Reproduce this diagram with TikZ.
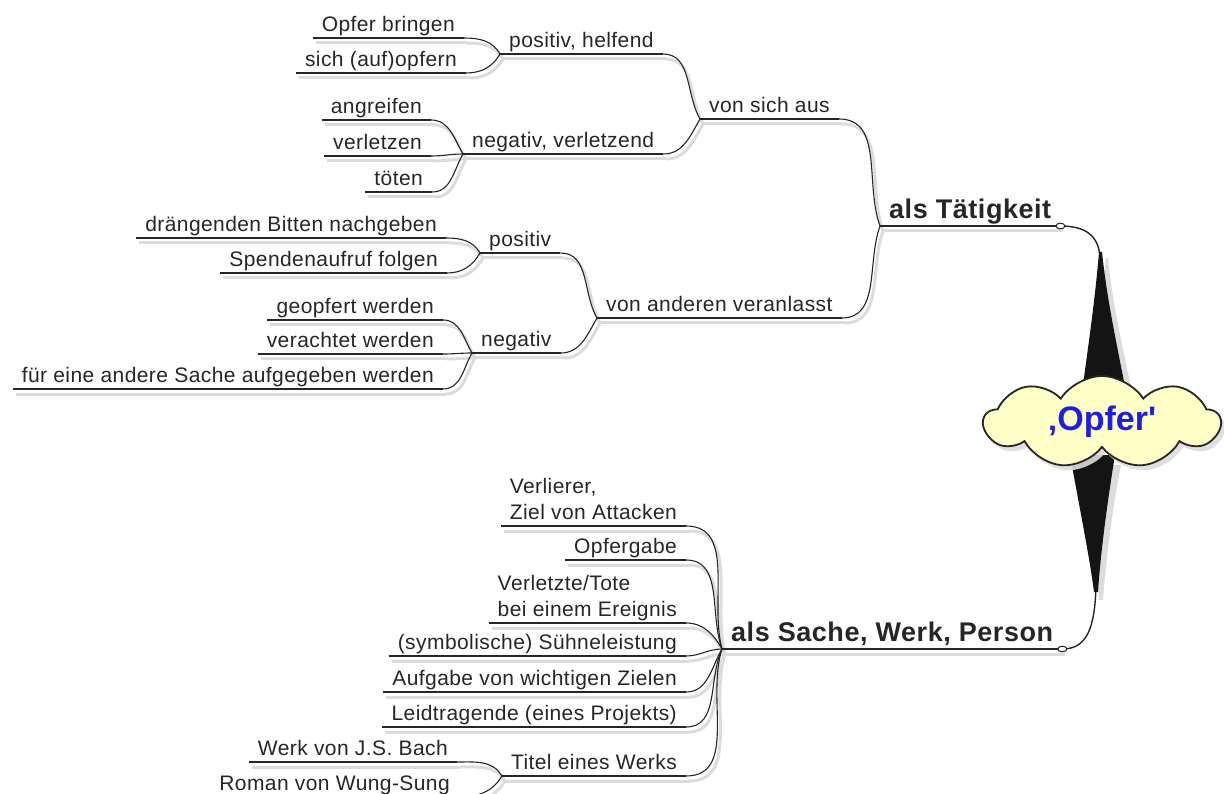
\documentclass[tikz,border=0pt]{standalone}
\usepackage{fontspec}
\setmainfont{Liberation Sans}[LetterSpace=2]
\newfontfamily\cloudfont{Liberation Sans}[Ligatures=TeXOff]
\usetikzlibrary{shapes.symbols,shadows,backgrounds}
\definecolor{mmblack}{HTML}{262626}
\definecolor{mmshade}{HTML}{DCDCDC}
\definecolor{mmyellow}{HTML}{FFFFC8}
\definecolor{mmblue}{HTML}{1E1EE8}

\begin{document}
\begin{tikzpicture}[x=1pt, y=1pt,
	leaf/.style={inner xsep=9pt, inner ysep=6pt, text depth=0pt, align=left, text=mmblack, font=\fontsize{21}{26}\selectfont},
	mainleaf/.style={leaf, inner ysep=7pt, font=\fontsize{27}{32}\selectfont\bfseries},
	uline/.style={draw=mmblack, line width=1.1pt},
	lshade/.style={draw=mmshade, line width=3pt},
	spike/.style={fill=black!92},
]
	\useasboundingbox (0,0) rectangle (1224,-794);

	% als Taetigkeit
	\node[mainleaf, anchor=south west] (tat) at (880,-226) {als Tätigkeit};
	\node[leaf, anchor=south west] (vsa) at (700,-119) {von sich aus};
	\node[leaf, anchor=south west] (vav) at (597,-318) {von anderen veranlasst};
	\node[leaf, anchor=south west] (ph) at (500,-54) {positiv, helfend};
	\node[leaf, anchor=south west] (nv) at (463,-154) {negativ, verletzend};
	\node[leaf, anchor=south west] (pos) at (480,-253) {positiv};
	\node[leaf, anchor=south west] (neg) at (472,-353) {negativ};
	\node[leaf, anchor=south east] (ob) at (464,-38) {Opfer bringen};
	\node[leaf, anchor=south east] (sao) at (466,-73) {sich (auf)opfern};
	\node[leaf, anchor=south east] (ang) at (431,-120) {angreifen};
	\node[leaf, anchor=south east] (vl) at (431,-156) {verletzen};
	\node[leaf, anchor=south east] (tot) at (432,-192) {töten};
	\node[leaf, anchor=south east] (dbn) at (446,-238) {drängenden Bitten nachgeben};
	\node[leaf, anchor=south east] (saf) at (447,-273) {Spendenaufruf folgen};
	\node[leaf, anchor=south east] (gw) at (443,-320) {geopfert werden};
	\node[leaf, anchor=south east] (vw) at (443,-354) {verachtet werden};
	\node[leaf, anchor=south east] (fes) at (443,-389) {für eine andere Sache aufgegeben werden};

	% als Sache, Werk, Person
	\node[mainleaf, anchor=south west] (swp) at (722,-649) {als Sache, Werk, Person};
	\node[leaf, anchor=south east] (vz) at (686,-526) {Verlierer,\\Ziel von Attacken};
	\node[leaf, anchor=south east] (og) at (686,-560) {Opfergabe};
	\node[leaf, anchor=south east] (ve) at (686,-623) {Verletzte/Tote\\bei einem Ereignis};
	\node[leaf, anchor=south east] (sl) at (686,-656) {(symbolische) Sühneleistung};
	\node[leaf, anchor=south east] (av) at (686,-692) {Aufgabe von wichtigen Zielen};
	\node[leaf, anchor=south east] (lt) at (686,-727) {Leidtragende (eines Projekts)};
	\node[leaf, anchor=south east] (tw) at (686,-776) {Titel eines Werks};
	\node[leaf, anchor=south east] (bach) at (457,-762) {Werk von J.S. Bach};
	\node[leaf, anchor=south east] (wung) at (459,-797) {Roman von Wung-Sung};

	% underlines
	\foreach \n in {tat,vsa,vav,ph,nv,pos,neg,ob,sao,ang,vl,tot,dbn,saf,gw,vw,fes,swp,vz,og,ve,sl,av,lt,tw,bach,wung}{
		\draw[uline] (\n.south west) -- (\n.south east);
		\begin{pgfonlayer}{background}
			\draw[lshade] ([shift={(3,-5)}]\n.south west) -- ([shift={(3,-5)}]\n.south east);
		\end{pgfonlayer}
	}

	% connectors
	\foreach \a/\b/\i in {ob/ph/120, sao/ph/240, ang/nv/120, vl/nv/180, tot/nv/240, ph/vsa/120, nv/vsa/240,
		dbn/pos/120, saf/pos/240, gw/neg/120, vw/neg/180, fes/neg/240, pos/vav/120, neg/vav/240,
		vsa/tat/110, vav/tat/250, vz/swp/105, og/swp/110, ve/swp/120, sl/swp/180, av/swp/240, lt/swp/245,
		tw/swp/252, bach/tw/120, wung/tw/240}{
		\draw[uline] (\a.south east) to[out=0, in=\i] (\b.south west);
		\begin{pgfonlayer}{background}
			\draw[lshade] ([shift={(3,-5)}]\a.south east) to[out=0, in=\i] ([shift={(3,-5)}]\b.south west);
		\end{pgfonlayer}
	}

	% branches to the cloud
	\draw[uline, line width=1.4pt] (tat.south east) .. controls (1086,-226) and (1099,-236) .. (1100,-258);
	\fill[spike] (1099,-252) .. controls (1095,-300) and (1089,-340) .. (1083,-385) -- (1126,-392) .. controls (1116,-340) and (1107,-300) .. (1102,-252) -- cycle;
	\draw[uline, line width=1.4pt] (1096,-585) .. controls (1095,-630) and (1086,-649) .. (swp.south east);
	\fill[spike] (1070,-455) -- (1115,-455) .. controls (1106,-510) and (1100,-560) .. (1098,-592) -- (1094,-592) .. controls (1090,-560) and (1080,-510) .. (1070,-455) -- cycle;
	\begin{pgfonlayer}{background}
		\fill[mmshade] (1106,-258) .. controls (1101,-300) and (1095,-340) .. (1090,-380) -- (1132,-392) .. controls (1121,-340) and (1112,-300) .. (1108,-258) -- cycle;
		\fill[mmshade] (1077,-465) -- (1121,-465) .. controls (1112,-510) and (1106,-560) .. (1103,-600) -- (1099,-600) .. controls (1096,-560) and (1086,-510) .. (1077,-465) -- cycle;
	\end{pgfonlayer}
	\filldraw[draw=mmblack, fill=white, line width=1pt] (tat.south east) ellipse (4.5 and 2.8);
	\filldraw[draw=mmblack, fill=white, line width=1pt] (swp.south east) ellipse (4.5 and 2.8);

	% cloud
	\node[cloud, cloud puffs=9, cloud puff arc=115, aspect=2.7, minimum width=236pt, minimum height=92pt,
		fill=mmyellow, draw=mmblack, line width=1.8pt,
		drop shadow={shadow xshift=4pt, shadow yshift=-5pt, fill=mmshade, opacity=0.9},
		text=mmblue, font=\fontsize{34}{38}\cloudfont\bfseries] (opfer) at (1102,-422) {‚Opfer'};
\end{tikzpicture}
\end{document}
